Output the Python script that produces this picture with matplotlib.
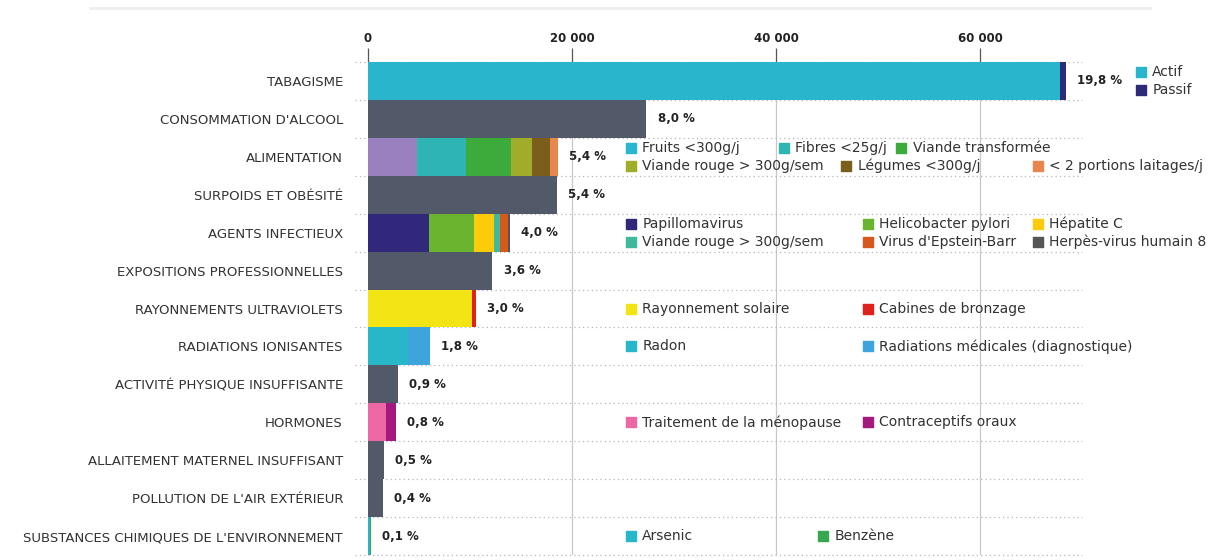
import matplotlib.pyplot as plt
import numpy as np

# categories (top to bottom) and their share of cancers
categories = ["TABAGISME", "CONSOMMATION D'ALCOOL", "ALIMENTATION", "SURPOIDS ET OBÉSITÉ",
              "AGENTS INFECTIEUX", "EXPOSITIONS PROFESSIONNELLES", "RAYONNEMENTS ULTRAVIOLETS",
              "RADIATIONS IONISANTES", "ACTIVITÉ PHYSIQUE INSUFFISANTE", "HORMONES",
              "ALLAITEMENT MATERNEL INSUFFISANT", "POLLUTION DE L'AIR EXTÉRIEUR",
              "SUBSTANCES CHIMIQUES DE L'ENVIRONNEMENT"]
pct_labels = ["19,8 %", "8,0 %", "5,4 %", "5,4 %", "4,0 %", "3,6 %", "3,0 %",
              "1,8 %", "0,9 %", "0,8 %", "0,5 %", "0,4 %", "0,1 %"]

# stacked segments per category (number of cases)
seg_values = [[67800, 600], [27300], [4800, 4800, 4400, 2050, 1800, 800], [18500],
              [6000, 4400, 1950, 600, 800, 200], [12200], [10200, 350], [3900, 2150],
              [2900], [1800, 900], [1600], [1450], [150, 120]]
slate = "#525a69"
seg_colors = [["#29b6cc", "#2e2a7a"], [slate],
              ["#9b80bf", "#2fb4b4", "#3daa3c", "#a0ad2a", "#7b5e1c", "#e8874d"], [slate],
              ["#31277b", "#6ab42f", "#fdcb0a", "#40b89c", "#d5591b", "#555555"], [slate],
              ["#f3e515", "#e0221c"], ["#28b6c9", "#3ea5dc"], [slate],
              ["#ec67a4", "#a3197f"], [slate], [slate], ["#28b6c9", "#36a850"]]

xticks = [0, 20000, 40000, 60000]
xtick_labels = ["0", "20 000", "40 000", "60 000"]

# inline legends: (labels, colors)
leg_tabac = (["Actif", "Passif"], ["#29b6cc", "#2e2a7a"])
leg_alim = (["Fruits <300g/j", "Fibres <25g/j", "Viande transformée",
             "Viande rouge > 300g/sem", "Légumes <300g/j", "< 2 portions laitages/j"],
            ["#29b6cf", "#2fb4b4", "#3daa3c", "#a0ad2a", "#7b5e1c", "#e8874d"])
leg_infect = (["Papillomavirus", "Helicobacter pylori", "Hépatite C",
               "Viande rouge > 300g/sem", "Virus d'Epstein-Barr", "Herpès-virus humain 8"],
              ["#31277b", "#6ab42f", "#fdcb0a", "#40b89c", "#d5591b", "#555555"])
leg_uv = (["Rayonnement solaire", "Cabines de bronzage"], ["#f3e515", "#e0221c"])
leg_radia = (["Radon", "Radiations médicales (diagnostique)"], ["#28b6c9", "#3ea5dc"])
leg_horm = (["Traitement de la ménopause", "Contraceptifs oraux"], ["#ec67a4", "#a3197f"])
leg_chim = (["Arsenic", "Benzène"], ["#28b6c9", "#36a850"])

fig = plt.figure(figsize=(12.12, 5.6), dpi=100)
W, H = 1212, 560
x0_px, x1_px = 368, 1082
ax = fig.add_axes([x0_px / W, 5 / H, (x1_px - x0_px) / W, (555 - 62) / H])
n = len(categories)
y = np.arange(n)

for i in range(n):
    left = 0
    for v, c in zip(seg_values[i], seg_colors[i]):
        ax.barh(y[i], v, left=left, height=1.0, color=c, zorder=3)
        left += v
    ax.annotate(pct_labels[i], (left, y[i]), xytext=(8, 0), textcoords="offset points",
                va="center", ha="left", fontsize=8.5, fontweight="bold", color="#222222")

ax.set_xlim(0, 70000)
ax.set_ylim(n - 0.5, -0.5)

# row separators (dotted)
for b in np.arange(n + 1) - 0.5:
    ax.plot([-1300, 70000], [b, b], ls=(0, (1, 2.5)), color="#b5b5b5", lw=0.9,
            zorder=1, clip_on=False)
for xv in xticks[1:]:
    ax.axvline(xv, color="#c8c8c8", lw=0.9, zorder=0)

ax.xaxis.tick_top()
ax.set_xticks(xticks)
ax.set_xticklabels(xtick_labels, fontsize=8.5, fontweight="bold", color="#222222")
ax.tick_params(axis="x", length=10, width=0.9, color="#555555", pad=2)
ax.set_yticks(y)
ax.set_yticklabels(categories, fontsize=9.5, color="#333333")
ax.tick_params(axis="y", length=0, pad=18)
for s in ax.spines.values():
    s.set_visible(False)


def legend_item(xv, yv, label, color):
    ax.scatter([xv], [yv], marker="s", s=55, color=color, clip_on=False, zorder=4)
    ax.text(xv + 1100, yv, label, fontsize=10, color="#333333",
            va="center", ha="left", clip_on=False)


c1, c2, c3 = 25800, 49000, 65700
legend_item(75800, -0.24, leg_tabac[0][0], leg_tabac[1][0])
legend_item(75800, 0.24, leg_tabac[0][1], leg_tabac[1][1])
alim_pos = [(c1, 2 - 0.24), (40800, 2 - 0.24), (52300, 2 - 0.24),
            (c1, 2 + 0.24), (46900, 2 + 0.24), (c3, 2 + 0.24)]
for (xv, yv), lab, col in zip(alim_pos, *leg_alim):
    legend_item(xv, yv, lab, col)
inf_pos = [(c1, 4 - 0.24), (c2, 4 - 0.24), (c3, 4 - 0.24),
           (c1, 4 + 0.24), (c2, 4 + 0.24), (c3, 4 + 0.24)]
for (xv, yv), lab, col in zip(inf_pos, *leg_infect):
    legend_item(xv, yv, lab, col)
for row, leg in [(6, leg_uv), (7, leg_radia), (9, leg_horm)]:
    legend_item(c1, row, leg[0][0], leg[1][0])
    legend_item(c2, row, leg[0][1], leg[1][1])
legend_item(c1, 12, leg_chim[0][0], leg_chim[1][0])
legend_item(44600, 12, leg_chim[0][1], leg_chim[1][1])

# faint header rule
fig.add_artist(plt.Line2D([90 / W, 1150 / W], [1 - 8 / H, 1 - 8 / H], color="#eeeeee", lw=2))

fig.savefig("out.png", dpi=100)
